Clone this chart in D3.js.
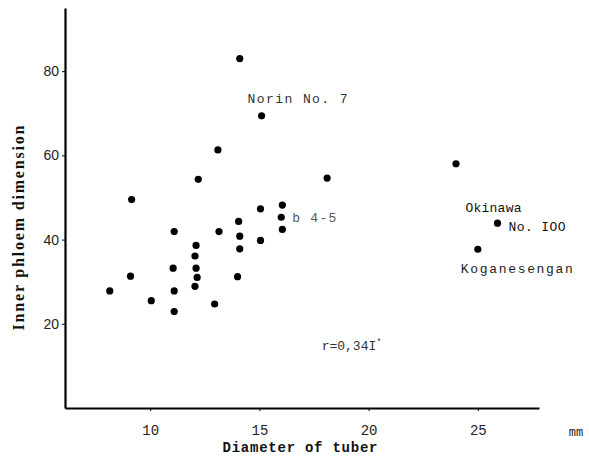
<!DOCTYPE html>
<html>
<head>
<meta charset="utf-8">
<script src="https://cdn.jsdelivr.net/npm/d3@7"></script>
<style>
  html, body { margin: 0; padding: 0; background: #fff; }
  svg { display: block; }
</style>
</head>
<body>
<svg id="chart" width="589" height="462"></svg>
<script>
// Diameter of tuber (mm)
const diameter = [14.1, 15.1, 13.1, 12.2, 9.15, 18.1, 24.0, 25.9, 25.0, 16.05,
                  15.05, 16.0, 14.05, 16.05, 11.1, 13.15, 14.1, 15.05, 12.1, 14.1,
                  12.05, 11.05, 12.1, 9.1, 12.15, 14.0, 12.05, 8.15, 11.1, 10.05,
                  12.95, 11.1];
// Inner phloem dimension
const phloem = [83.0, 69.4, 61.3, 54.3, 49.5, 54.6, 58.0, 43.9, 37.7, 48.2,
                47.3, 45.3, 44.3, 42.4, 41.9, 41.9, 40.8, 39.8, 38.6, 37.8,
                36.1, 33.2, 33.2, 31.3, 31.0, 31.2, 28.9, 27.8, 27.8, 25.5,
                24.7, 22.9];
const xTicks = [10, 15, 20, 25];
const yTicks = [20, 40, 60, 80];
const xDomain = [6.1, 27.8];
const yDomain = [0, 95];
// labelled varieties: index of point in arrays above
const labelNames = ["Norin No. 7", "b 4-5", "Okinawa", "No. IOO", "Koganesengan"];
const labelPoint = [1, 11, 7, 7, 8];
const corrText = "r=0,34I";

const svg = d3.select("#chart");
const x = d3.scaleLinear().domain(xDomain).range([65, 539]);
const y = d3.scaleLinear().domain(yDomain).range([408, 8]);

const mono = "'Liberation Mono', 'DejaVu Sans Mono', monospace";

// Y axis
const yAxis = svg.append("g")
  .attr("transform", `translate(${x(xDomain[0])},0)`)
  .call(d3.axisLeft(y).tickValues(yTicks).tickSize(3).tickSizeOuter(0).tickPadding(6));
yAxis.select(".domain").attr("stroke", "#000").attr("stroke-width", 2.2);
yAxis.selectAll(".tick line").attr("stroke", "#000").attr("stroke-width", 1);
yAxis.selectAll(".tick text")
  .attr("font-family", "'Liberation Sans', Arial, sans-serif")
  .attr("font-size", 14).attr("fill", "#222").attr("x", -6);

// X axis
const xAxis = svg.append("g")
  .attr("transform", `translate(0,${y(yDomain[0])})`)
  .call(d3.axisBottom(x).tickValues(xTicks).tickSize(3).tickSizeOuter(0).tickPadding(14));
xAxis.select(".domain").attr("stroke", "#000").attr("stroke-width", 2.2);
xAxis.selectAll(".tick line").attr("stroke", "#000").attr("stroke-width", 1);
xAxis.selectAll(".tick text")
  .attr("font-family", mono).attr("font-size", 14).attr("fill", "#222");

// unit
svg.append("text").attr("x", 576).attr("y", 436)
  .attr("text-anchor", "middle").attr("font-family", mono)
  .attr("font-size", 12).attr("fill", "#222").text("mm");

// axis titles
svg.append("text")
  .attr("x", 300).attr("y", 452).attr("text-anchor", "middle")
  .attr("font-family", mono).attr("font-weight", "bold").attr("font-size", 14)
  .attr("textLength", 155).attr("lengthAdjust", "spacing")
  .attr("fill", "#111").text("Diameter of tuber");

svg.append("text")
  .attr("transform", "translate(24,228) rotate(-90)")
  .attr("text-anchor", "middle")
  .attr("font-family", "'Liberation Serif', 'Times New Roman', serif")
  .attr("font-weight", "bold").attr("font-size", 16)
  .attr("textLength", 205).attr("lengthAdjust", "spacing")
  .attr("fill", "#111").text("Inner phloem dimension");

// points
svg.append("g").selectAll("circle")
  .data(diameter.map((d, i) => [d, phloem[i]]))
  .join("circle")
  .attr("cx", d => x(d[0]))
  .attr("cy", d => y(d[1]))
  .attr("r", 3.6)
  .attr("fill", "#000");

// point labels (offsets in px from the labelled point)
const labelDx = [-14, 11, -32, 11, -17];
const labelDy = [-13, 5, -11, 8, 24];
const labelLen = [100, 44, 56, 57, 112];
const labelColor = ["#333", "#555", "#111", "#111", "#222"];
svg.append("g").selectAll("text")
  .data(labelNames)
  .join("text")
  .attr("x", (d, i) => x(diameter[labelPoint[i]]) + labelDx[i])
  .attr("y", (d, i) => y(phloem[labelPoint[i]]) + labelDy[i])
  .attr("font-family", mono)
  .attr("font-size", 13)
  .attr("textLength", (d, i) => labelLen[i])
  .attr("lengthAdjust", "spacing")
  .attr("fill", (d, i) => labelColor[i])
  .text(d => d);

// correlation
const corr = svg.append("text")
  .attr("x", x(17.85)).attr("y", y(13.7))
  .attr("font-family", mono).attr("font-size", 13).attr("fill", "#333");
corr.append("tspan").text(corrText);
corr.append("tspan").attr("dy", -5).attr("font-size", 9).text("*");
</script>
</body>
</html>
